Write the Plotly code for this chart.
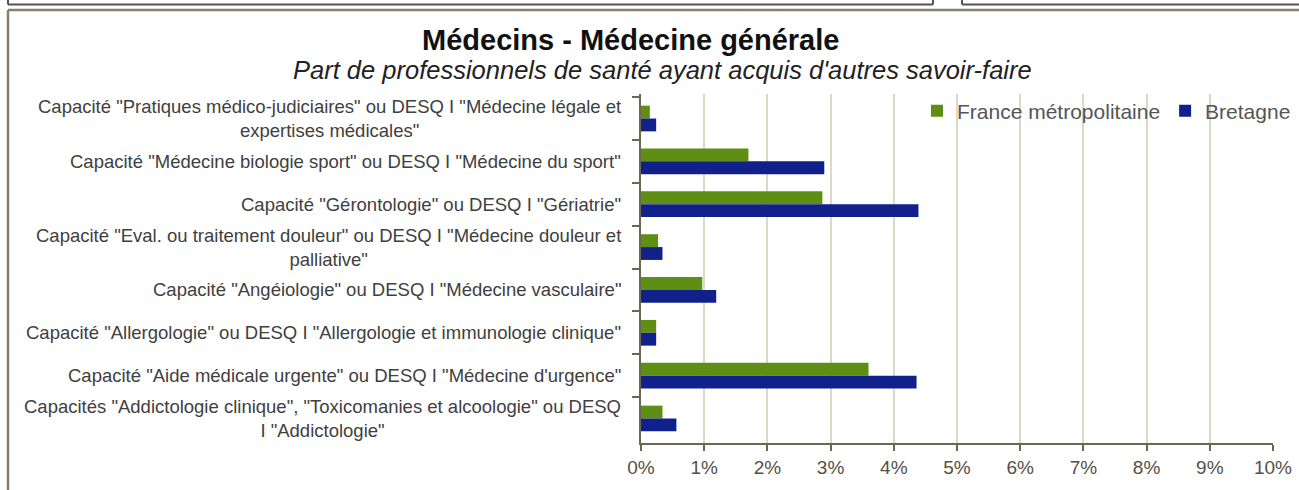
import plotly.graph_objects as go

# categories, top to bottom as in the source chart
categories = [
    'Capacité "Pratiques médico-judiciaires" ou DESQ I "Médecine légale et<br>expertises médicales"',
    'Capacité "Médecine biologie sport" ou DESQ I "Médecine du sport"',
    'Capacité "Gérontologie" ou DESQ I "Gériatrie"',
    'Capacité "Eval. ou traitement douleur" ou DESQ I "Médecine douleur et<br>palliative"',
    'Capacité "Angéiologie" ou DESQ I "Médecine vasculaire"',
    'Capacité "Allergologie" ou DESQ I "Allergologie et immunologie clinique"',
    'Capacité "Aide médicale urgente" ou DESQ I "Médecine d\'urgence"',
    'Capacités "Addictologie clinique", "Toxicomanies et alcoologie" ou DESQ<br>I "Addictologie"',
]
france = [0.14, 1.70, 2.87, 0.27, 0.97, 0.24, 3.60, 0.34]
bretagne = [0.24, 2.90, 4.39, 0.34, 1.19, 0.24, 4.36, 0.56]
x_ticks = [0, 1, 2, 3, 4, 5, 6, 7, 8, 9, 10]
x_ticktext = [f"{v}%" for v in x_ticks]

W, H = 1299, 490
L, R, T, B = 641, 26, 94, 47
PW, PH = W - L - R, H - T - B


def px(x):
    return (x - L) / PW


def py(y):
    return (H - B - y) / PH


AXIS = "#6b6851"
GRID = "#dcd9c4"
TXT = "#404040"
FONT = "Liberation Sans, Arial, sans-serif"

fig = go.Figure()
fig.add_trace(go.Bar(y=categories, x=france, orientation="h",
                     name="France métropolitaine",
                     marker=dict(color="#5e8f14", line=dict(width=0))))
fig.add_trace(go.Bar(y=categories, x=bretagne, orientation="h",
                     name="Bretagne",
                     marker=dict(color="#10218b", line=dict(width=0))))

# category labels, centred multi-line like the original
for c in categories:
    fig.add_annotation(x=0, y=c, xref="paper", yref="y", text=c,
                       showarrow=False, xanchor="right", align="center",
                       xshift=-18, font=dict(size=18.5, color=TXT, family=FONT))

fig.add_annotation(x=px(630), y=py(40), xref="paper", yref="paper",
                   text="<b>Médecins - Médecine générale</b>", showarrow=False,
                   xanchor="center", yanchor="middle",
                   font=dict(size=29, color="#111111", family=FONT))
fig.add_annotation(x=px(662), y=py(70), xref="paper", yref="paper",
                   text="<i>Part de professionnels de santé ayant acquis d'autres savoir-faire</i>",
                   showarrow=False, xanchor="center", yanchor="middle",
                   font=dict(size=25.5, color="#222222", family=FONT))

# frame of the chart box and the neighbouring boxes above
box = dict(color="#858068", width=2.5)
other = dict(color="#555555", width=2)
shapes = [
    dict(x0=px(8), x1=px(1310), y0=py(10), y1=py(10), line=box),
    dict(x0=px(8), x1=px(8), y0=py(10), y1=py(500), line=box),
    dict(x0=px(8), x1=px(933), y0=py(4.5), y1=py(4.5), line=other),
    dict(x0=px(933), x1=px(933), y0=py(-5), y1=py(4.5), line=other),
    dict(x0=px(962), x1=px(1310), y0=py(4.5), y1=py(4.5), line=other),
    dict(x0=px(962), x1=px(962), y0=py(-5), y1=py(4.5), line=other),
    dict(x0=px(8), x1=px(8), y0=py(-5), y1=py(4.5), line=other),
]
for s in shapes:
    s.update(type="line", xref="paper", yref="paper")

fig.update_layout(
    width=W, height=H,
    margin=dict(l=L, r=R, t=T, b=B, autoexpand=False),
    paper_bgcolor="white", plot_bgcolor="white",
    barmode="group", bargap=0.4, bargroupgap=0,
    shapes=shapes,
    font=dict(family=FONT, color=TXT),
    legend=dict(orientation="h", x=px(917), y=py(111), xanchor="left",
                yanchor="middle", bgcolor="rgba(0,0,0,0)",
                font=dict(size=21, color="#555555", family=FONT),
                traceorder="normal"),
)
fig.update_xaxes(range=[0, 10], tickvals=x_ticks, ticktext=x_ticktext,
                 showgrid=True, gridcolor=GRID, gridwidth=1.5,
                 zeroline=False, showline=True, linecolor=AXIS, linewidth=2,
                 ticks="outside", ticklen=6, tickcolor=AXIS, tickwidth=2,
                 tickfont=dict(size=19, color="#555046", family=FONT))
fig.update_yaxes(autorange="reversed", showticklabels=False,
                 showline=True, linecolor=AXIS, linewidth=2,
                 ticks="outside", tickson="boundaries", ticklen=7,
                 tickcolor=AXIS, tickwidth=2, showgrid=False)

# drop the page's default body margin so the figure sits at the window corner
fig.write_html("out.html", config={"displayModeBar": False},
               post_script="document.body.style.margin='0px';")
